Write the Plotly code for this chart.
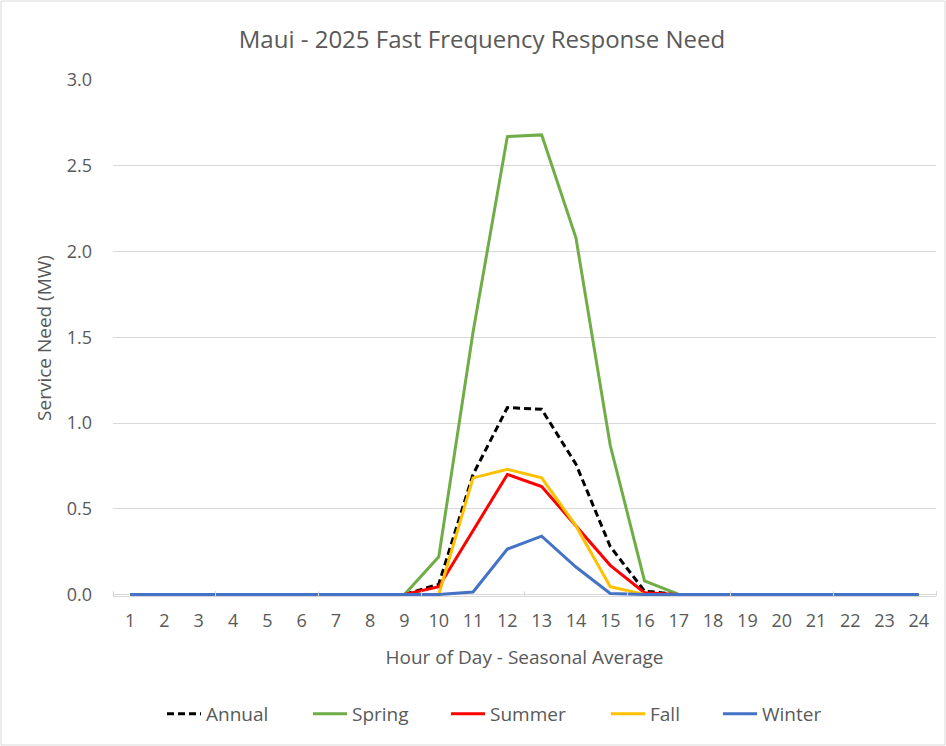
import plotly.graph_objects as go

hours = list(range(1, 25))
annual = [0]*9 + [0.06, 0.70, 1.09, 1.08, 0.76, 0.28, 0.02] + [0]*8
spring = [0]*9 + [0.22, 1.53, 2.67, 2.68, 2.08, 0.87, 0.08] + [0]*8
summer = [0]*9 + [0.045, 0.37, 0.70, 0.63, 0.40, 0.17, 0.01] + [0]*8
fall = [0]*9 + [0.0, 0.68, 0.73, 0.68, 0.40, 0.045, 0.0] + [0]*8
winter = [0]*9 + [0.0, 0.015, 0.265, 0.34, 0.16, 0.006, 0.0] + [0]*8

series = [
    ("Annual", annual, "#000000", "7px,4px"),
    ("Spring", spring, "#70AD47", "solid"),
    ("Summer", summer, "#FF0000", "solid"),
    ("Fall", fall, "#FFC000", "solid"),
    ("Winter", winter, "#4472C4", "solid"),
]
legend_text_x = [206, 352, 490, 650, 762]  # pixel position of each legend label

FONT = "Open Sans"
GREY = "#595959"

W, H = 946, 746
L, R, T, B = 113, 10, 80, 150
pw, ph = W - L - R, H - T - B
ypad = 3 * ph / (ph - 1.5) - 3  # lifts zero so the baseline line is fully drawn
ITEMW = 34

fig = go.Figure()
legends = {}
for i, (name, vals, color, dash) in enumerate(series):
    key = "legend" if i == 0 else f"legend{i + 1}"
    fig.add_trace(go.Scatter(x=hours, y=vals, mode="lines", name=name, legend=key,
                             line=dict(color=color, width=3, dash=dash)))
    legends[key] = dict(orientation="h", x=(legend_text_x[i] - ITEMW - 10 - L) / pw,
                        xanchor="left", y=(T + ph - 714) / ph, yanchor="middle",
                        font=dict(size=19, color=GREY, family=FONT),
                        bgcolor="rgba(0,0,0,0)", itemwidth=ITEMW)

fig.update_layout(
    width=W, height=H,
    margin=dict(l=L, r=R, t=T, b=B),
    paper_bgcolor="white", plot_bgcolor="white",
    font=dict(family=FONT, color=GREY, size=18),
    title=dict(text="Maui - 2025 Fast Frequency Response Need", x=482 / W, xanchor="center",
               xref="container", y=1 - 40 / H, yanchor="middle", yref="container",
               font=dict(size=24, color=GREY, family=FONT)),
    xaxis=dict(range=[0.5, 24.5], tickmode="array", tickvals=hours,
               ticktext=[str(h) for h in hours], showgrid=False, zeroline=False,
               showline=True, linecolor="#d9d9d9", linewidth=1,
               ticks="", ticklabelstandoff=8,
               minor=dict(tick0=0.5, dtick=3, ticks="inside", ticklen=5, tickcolor="#d9d9d9"),
               title=dict(text="Hour of Day - Seasonal Average", standoff=20,
                          font=dict(size=19, color=GREY)),
               tickfont=dict(size=18, color=GREY)),
    yaxis=dict(range=[-ypad, 3], tick0=0, dtick=0.5, tickformat=".1f", showgrid=True,
               gridcolor="#d9d9d9", gridwidth=1, zeroline=False, showline=False,
               ticks="", ticklabelstandoff=20,
               title=dict(text="Service Need (MW)", standoff=10,
                          font=dict(size=19, color=GREY)),
               tickfont=dict(size=18, color=GREY)),
    showlegend=True,
    **legends,
)

fig.add_shape(type="rect", xref="paper", yref="paper",
              x0=(1 - L) / pw, x1=(W - 1 - L) / pw,
              y0=(T + ph - (H - 1)) / ph, y1=(T + ph - 1) / ph,
              line=dict(color="#d9d9d9", width=1), fillcolor="rgba(0,0,0,0)", layer="below")

fig.write_html("out.html", config={"displayModeBar": False},
               post_script="document.body.style.margin='0';")
